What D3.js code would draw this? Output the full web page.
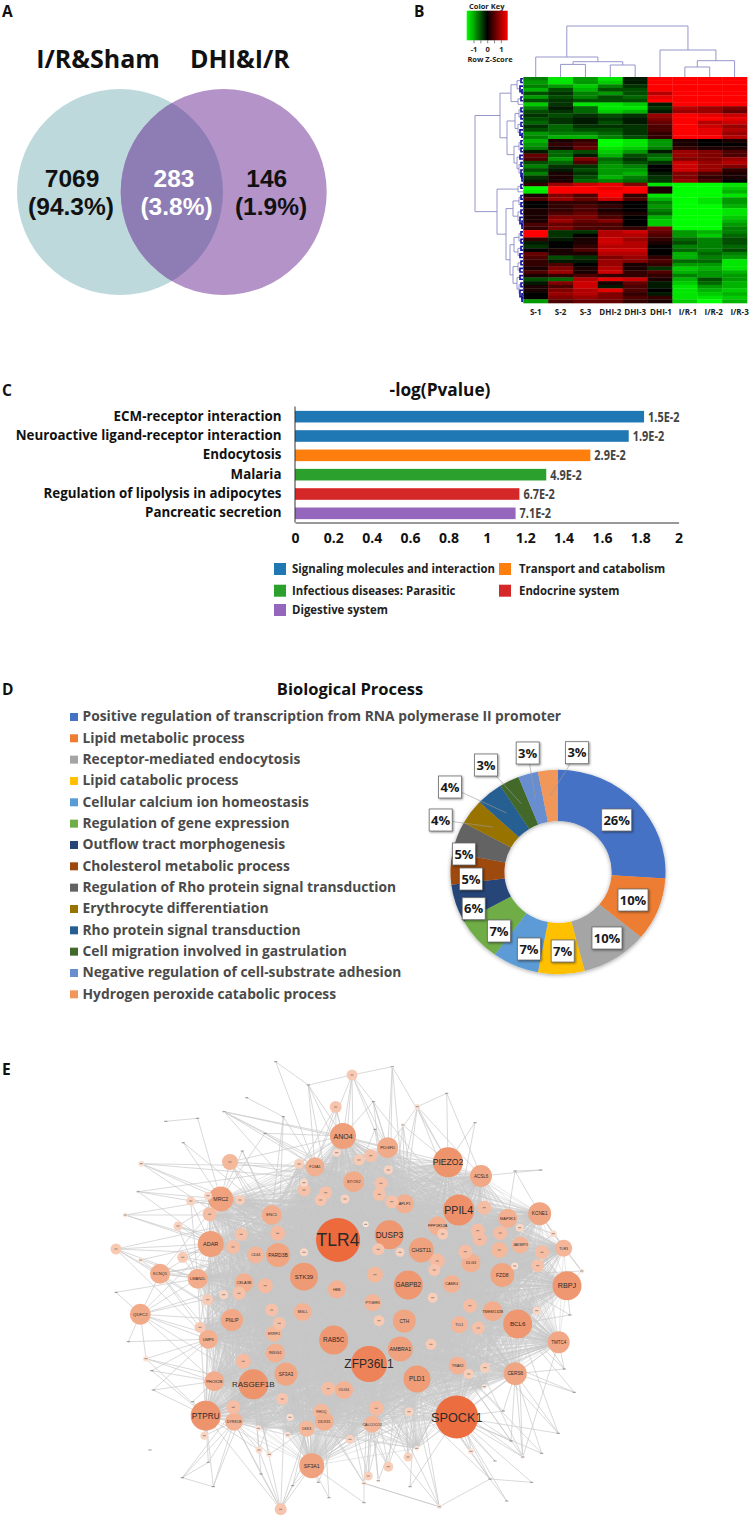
<!DOCTYPE html>
<html>
<head>
<meta charset="utf-8">
<script src="https://cdn.jsdelivr.net/npm/d3@7"></script>
<style>
  body { margin: 0; background: #fff; }
  svg { display: block; }
  text { font-family: "Open Sans", sans-serif; }
  .net text { font-family: "Liberation Sans", sans-serif; }
</style>
</head>
<body>
<svg id="fig" width="752" height="1517"></svg>
<script>
// panel A
const vennSets = ["I/R&Sham", "DHI&I/R"];
const vennCounts = ["7069", "283", "146"];
const vennShares = ["(94.3%)", "(3.8%)", "(1.9%)"];

// panel B, row z-scores in tenths
const heatColumns = ["S-1", "S-2", "S-3", "DHI-2", "DHI-3", "DHI-1", "I/R-1", "I/R-2", "I/R-3"];
const heatRows = [
  [-5,-9,-6,-9,-1,10,10,10,10],
  [-6,-9,-6,-8,-1,10,10,10,10],
  [-5,-6,-8,-5,-2,10,10,10,10],
  [-7,-3,-7,-3,-3,10,10,10,10],
  [-3,-2,-5,-6,-3,7,10,10,10],
  [-6,-3,-5,-3,-4,9,10,10,10],
  [-3,-2,-3,-3,-3,10,10,10,10],
  [-8,-2,-9,-9,-8,-1,10,10,10],
  [-5,-1,-4,-9,-9,-2,7,6,5],
  [-3,-2,-4,-8,-7,-1,6,6,4],
  [-2,-3,-2,-3,-2,6,10,9,8],
  [-3,-2,-1,-2,-1,5,10,10,9],
  [-4,-2,-1,-3,-1,4,10,7,8],
  [-2,-4,-2,-2,-2,3,10,8,6],
  [-3,-4,-3,-3,-2,3,10,9,7],
  [-6,-5,-5,-4,-2,2,10,9,6],
  [-5,-7,-7,-5,-3,2,10,10,7],
  [-7,1,2,-10,-9,-6,1,0,1],
  [-6,2,3,-10,-9,-6,1,0,0],
  [-5,1,4,-9,-8,-5,2,1,1],
  [-1,-4,-3,-8,-6,-1,6,5,3],
  [4,-4,-1,-7,-3,-4,6,5,3],
  [3,-6,5,-4,-2,-5,5,5,6],
  [-3,-4,3,-5,-3,-2,8,6,7],
  [-5,-2,-2,-6,-5,0,8,6,5],
  [-3,-1,-3,-6,-6,0,8,6,2],
  [-5,1,-2,-6,-7,-1,5,3,1],
  [-2,1,-3,-7,-5,-2,5,2,1],
  [-1,1,-4,-5,-4,-2,6,3,0],
  [2,6,8,9,5,-9,-10,-10,-9],
  [-10,10,10,9,10,1,-10,-10,-8],
  [-9,10,10,10,10,1,-10,-10,-7],
  [1,5,3,10,2,-9,-10,-10,-9],
  [3,6,4,8,3,-7,-10,-9,-6],
  [0,2,2,1,0,-5,-10,-9,-6],
  [0,2,3,2,0,-6,-10,-10,-7],
  [1,2,3,1,0,-5,-10,-10,-9],
  [1,3,4,2,1,-4,-10,-10,-9],
  [1,5,5,3,0,-7,-10,-10,-8],
  [1,6,4,5,0,-8,-10,-10,-7],
  [3,4,3,3,0,-8,-10,-10,-6],
  [2,5,3,3,2,5,-10,-10,-5],
  [10,-2,-2,7,8,4,-6,-7,-5],
  [10,-2,0,7,7,3,-6,-8,-4],
  [2,-1,1,8,6,2,-4,-5,-3],
  [-1,0,1,8,7,1,-3,-5,-3],
  [-2,0,2,7,7,0,-5,-5,-4],
  [0,1,3,8,8,0,-4,-5,-3],
  [4,1,1,7,7,0,-7,-4,-5],
  [3,-3,-2,5,6,2,-7,-5,-6],
  [2,-1,-1,6,5,3,-4,-4,-9],
  [2,3,0,6,1,2,-6,-6,-9],
  [1,5,1,7,1,-2,-8,-7,-9],
  [3,6,1,8,2,3,-7,-6,-7],
  [1,2,3,2,2,2,-5,-6,-6],
  [-3,-4,7,9,8,1,-7,-3,-6],
  [-1,5,8,1,4,-1,-8,-4,-7],
  [1,3,8,-1,3,-1,-9,-6,-7],
  [1,5,7,9,3,0,-9,-7,-8],
  [0,6,7,5,2,-1,-9,-8,-7],
  [0,5,6,5,3,2,-9,-9,-8],
  [-6,3,4,4,2,1,-8,-10,-7],
];
// dendrograms: [height, left, right], leaves are column or row numbers
const columnTree = [51, [20, 0, [15.3, [12.6, 1, 2], [12, 3, 4]]], [27, 5, [16.3, [10, 6, 7], 8]]];
const rowTree = [48,
  [23,
    [12, [6, [2, 0, 1], [3, 2, [1, 3, 4]]], [5, [2, 5, 6], 7]],
    [16,
      [8, [4, [2, 8, 9], [2, 10, 11]], [5, [2, 12, 13], [3, 14, [1, 15, 16]]]],
      [9, [4, [2, 17, 18], [2, 19, 20]], [6, [3, 21, 22], [4, [2, 23, 24], [2, 25, [1, 26, [1, 27, 28]]]]]]]],
  [26,
    [5, [2, 29, 30], 31],
    [17,
      [10, [4, [2, 32, 33], [2, 34, 35]], [5, [2, 36, 37], [3, 38, [1, 39, [1, 40, 41]]]]],
      [13,
        [9, [4, [2, 42, 43], [2, 44, 45]], [5, [2, 46, 47], [3, 48, 49]]],
        [10, [5, [2, 50, 51], [3, 52, 53]], [6, [3, 54, 55], [4, [2, 56, 57], [3, 58, [1, 59, [1, 60, 61]]]]]]]]],
];
const keyTicks = [-1, -0.5, 0, 0.5, 1];

// panel C
const pathwayNames = ["ECM-receptor interaction", "Neuroactive ligand-receptor interaction", "Endocytosis", "Malaria", "Regulation of lipolysis in adipocytes", "Pancreatic secretion"];
const pathwayLogP = [1.82, 1.74, 1.54, 1.31, 1.17, 1.15];
const pathwayPValues = ["1.5E-2", "1.9E-2", "2.9E-2", "4.9E-2", "6.7E-2", "7.1E-2"];
const pathwayClass = [0, 0, 1, 2, 3, 4];
const classNames = ["Signaling molecules and interaction", "Transport and catabolism", "Infectious diseases: Parasitic", "Endocrine system", "Digestive system"];
const classColors = ["#1f77b4", "#ff7f0e", "#2ca02c", "#d62728", "#9467bd"];
const pathwayTicks = [0, 0.2, 0.4, 0.6, 0.8, 1, 1.2, 1.4, 1.6, 1.8, 2];

// panel D
const processNames = [
  "Positive regulation of transcription from RNA polymerase II promoter",
  "Lipid metabolic process", "Receptor-mediated endocytosis", "Lipid catabolic process",
  "Cellular calcium ion homeostasis", "Regulation of gene expression", "Outflow tract morphogenesis",
  "Cholesterol metabolic process", "Regulation of Rho protein signal transduction", "Erythrocyte differentiation",
  "Rho protein signal transduction", "Cell migration involved in gastrulation",
  "Negative regulation of cell-substrate adhesion", "Hydrogen peroxide catabolic process",
];
const processShares = [26, 10, 10, 7, 7, 7, 6, 5, 5, 4, 4, 3, 3, 3];
const processColors = ["#4472c4", "#ed7d31", "#a5a5a5", "#ffc000", "#5b9bd5", "#70ad47", "#264478", "#9e480e", "#636363", "#997300", "#255e91", "#43682b", "#698ed0", "#f1975a"];

// panel E: [gene, layout x, layout y, degree]
const coreNodes = [
  ["TLR4",238,180,44],["ANO4",243,76,26],["MRC2",120.7,139,25],["ADAR",110.7,184,26],["STK39",204,216.7,28],
  ["PARD3B",178,195,24],["ENC1",171.7,155,20],["F13A1",215,106.7,19],["LMAN2L",97.7,218.7,20],["CELA3B",144,222.7,19],
  ["CD44",155.7,195,17],["HBB",236.7,229.3,18],["STOX2",253.7,121.7,21],["PIEZO2",348,102.3,30],["PPIL4",358.7,150,31],
  ["DUSP3",289.3,174.7,29],["CHST11",321.3,190,25],["GABPB2",308.3,225,29],["FZD8",402.3,215,24],["RBPJ",467,225.7,29],
  ["KCNE1",439.7,153.7,23],["ACSL6",381,116,22],["PDGFD",287.7,87.7,21],["APLP1",304.7,143.7,19],["PPP1R12A",337.7,165.7,19],
  ["MAP3K3",407.7,158.3,19],["JAKMIP3",420.3,185,17],["TLR3",463.7,188.3,17],["DLG3",371,203,19],["CAMK4",351.7,224,18],
  ["RAB5C",233.7,280,29],["RASGEF1B",153.3,324.3,30],["PTPRU",105.7,355.7,30],["SF3A1",211.7,405.7,25],["PNLIP",132,260,22],
  ["UMPS",108.3,279.3,19],["PHOX2B",114.3,321.3,20],["DYRK1B",134,361.7,18],["INSIG1",175.3,293,19],["ERRFI1",174,273.7,16],
  ["SF3A3",186,314,23],["MGLL",202.7,252,18],["RHOQ",221.3,351.7,16],["DDX31",224.3,361.3,19],["DKK3",206.7,368.7,16],
  ["OLIG1",244,330,18],["ZFP36L1",269,304,36],["SPOCK1",356.7,357,43],["PLD1",317,319,27],["AMBRA1",300.3,289,25],
  ["CTH",304.3,261,23],["PTGER3",272.7,242.7,17],["BCL6",417.7,264,29],["TMTC4",458.7,282.3,22],["CERS6",415.3,313.7,23],
  ["TMEM132B",392.7,251.3,20],["TRAK2",357.7,305.7,18],["TLL1",359.3,264.7,17],["CALCOCO2",272.3,364.3,17],
  ["",204,130,13],["",204,122.7,8],["",225.7,132.7,13],["",220.7,140,12],["",245,139,9],["",236.7,92.7,8],
  ["",199,104,10],["",177.7,173.3,15],["",141.3,174.3,13],["",133,187,14],["",109.7,154.3,14],["",140,140,10],
  ["",204,192.3,8],["",165.3,225.7,15],["",384.3,147.7,14],["",270.7,95.7,13],["",259,100,11],["",288.3,110,9],
  ["",281,123.3,13],["",279.3,134.3,13],["",291.7,141.7,13],["",265.7,164.3,6],["",278.3,189.3,12],["",300,192.3,9],
  ["",275,214.7,16],["",337.3,201,15],["",334.3,210,12],["",342.7,174,11],["",365.3,191.7,14],["",377.7,170.7,14],
  ["",379.7,179.3,14],["",400.3,173,14],["",399.3,190,16],["",419.7,167.7,8],["",442,192.3,14],["",437.7,205.7,13],
  ["",414.7,206,7],["",171.7,250,13],["",179.3,263.3,13],["",143.3,301.3,15],["",182.3,339,12],["",133.3,347.3,14],
  ["",100,267.3,11],["",107.7,239.7,11],["",123.7,234.7,9],["",139,233.3,13],["",228.3,328.7,14],["",190,357.3,7],
  ["",187.7,375,6],["",332.7,237.7,10],["",370,245.7,14],["",279,260.7,11],["",378.3,268,13],["",331,284.3,11],
  ["",385,307.7,10],["",368.7,314,10],["",276.3,348.3,15],["",309,351.7,9],["",250,379.3,9],["",436.7,250.7,8],
  ["",384.3,326.7,5],["",316.7,388.3,5],["",158.3,368.3,6],
];
// nodes round the edge of the network: [id, layout x, layout y, degree, linked genes]
const rimNodes = [
  ["_a",16,189,11,"ADAR LMAN2L KCNQ5 CD44 ENC1 UMPS PNLIP"],
  ["KCNQ5",60,213.7,20,"ADAR LMAN2L CELA3B CD44 UMPS PNLIP STK39 RASGEF1B MRC2 PARD3B"],
  ["QDFC2",40.3,254.3,21,"UMPS PNLIP LMAN2L ADAR RASGEF1B PHOX2B INSIG1 CELA3B KCNQ5 STK39"],
  ["_b",25.3,155,5,"ADAR MRC2 ENC1 CD44"],
  ["_c",38.3,131.7,4,"MRC2 ADAR ENC1 F13A1"],
  ["_d",41.3,103.7,6,"MRC2 ENC1 F13A1 PARD3B STOX2"],
  ["_e",40.7,200,5,"ADAR LMAN2L KCNQ5"],
  ["_f",90.7,141,9,"MRC2 ADAR ENC1 LMAN2L"],
  ["_g",78,166,9,"ADAR MRC2 LMAN2L CD44 PARD3B"],
  ["_h",82.7,197.3,11,"ADAR LMAN2L CELA3B STK39 ENC1"],
  ["_i",108,135.7,8,"MRC2 ADAR ENC1"],
  ["_j",130,102,16,"MRC2 ENC1 F13A1 ANO4 TLR4 STK39 PARD3B STOX2"],
  ["_k",124,51.7,3,"F13A1 ANO4 PDGFD TLR4 APLP1 STOX2"],
  ["_l",65.7,61.3,1.5,"_m"],
  ["_m",97.7,58.3,1.5,"MRC2"],
  ["_n",83.3,82.7,1.5,"MRC2 ENC1"],
  ["_o",142.3,91,1.5,"ENC1 MRC2 STK39"],
  ["_p",146.7,37.7,1.5,"_q"],
  ["_q",183.3,56.7,1.5,"ENC1 F13A1 PARD3B"],
  ["_r",165,73.3,1.5,"F13A1 ANO4 MRC2"],
  ["_s",175.7,1.7,1.5,"_t F13A1"],
  ["_t",208.3,25,1.5,"ANO4 F13A1 TLR4 STOX2 _u"],
  ["_u",252,15,11,"ANO4 F13A1 PDGFD APLP1 TLR4 STOX2 PPIL4"],
  ["_v",292.3,6.7,3,"DUSP3 APLP1 PIEZO2 PDGFD _u"],
  ["_w",235.7,47,12,"TLR4 ENC1 ANO4 F13A1 STOX2"],
  ["_x",273.3,41.7,1.5,"PDGFD DUSP3 APLP1 ANO4"],
  ["_y",275,69.3,1.5,"PDGFD STOX2 DUSP3"],
  ["_z",317.3,46.7,6,"PIEZO2 PPIL4 APLP1 PDGFD DUSP3 ACSL6"],
  ["_aa",303,65,4,"PIEZO2 APLP1 DUSP3 CHST11"],
  ["_ab",346.7,33.3,1.5,"_z PIEZO2 ACSL6"],
  ["_ac",375,62.7,1.5,"PIEZO2 PPIL4"],
  ["_ad",441,110,1.5,"_ae ACSL6"],
  ["_ae",415,111,1.5,"KCNE1 MAP3K3"],
  ["_af",453.3,173.7,7,"KCNE1 TLR3 FZD8 MAP3K3"],
  ["_ag",481.7,211,5,"TLR3 RBPJ KCNE1 FZD8"],
  ["_ah",470,255,1.5,"RBPJ BCL6 FZD8"],
  ["_ai",464.3,309,1.5,"BCL6 TMTC4 FZD8 CERS6"],
  ["_aj",474.3,332.3,1.5,"BCL6 CERS6 CTH"],
  ["_ak",458.3,373.3,1.5,"CERS6 SPOCK1 BCL6 TLL1"],
  ["_al",441.7,393.3,1.5,"SPOCK1 CERS6 TRAK2"],
  ["_am",422.7,397,4,"TMTC4 CERS6 BCL6 SPOCK1 PLD1 TRAK2 TLL1"],
  ["_an",411,381,1.5,"CERS6 SPOCK1 PLD1 TRAK2"],
  ["_ao",403.3,351,1.5,"CERS6 TRAK2 SPOCK1"],
  ["_ap",371,391.3,6,"SPOCK1 PLD1 TRAK2"],
  ["_aq",395,401,1.5,"SPOCK1 PLD1"],
  ["_ar",431.7,422.3,1.5,"SPOCK1 _as"],
  ["_as",390,419,1.5,"SPOCK1 AMBRA1 PLD1 ZFP36L1"],
  ["_at",406.7,441,1.5,"SPOCK1 _as"],
  ["_au",339.3,446.7,5,"_as PLD1 AMBRA1 ZFP36L1 CALCOCO2 _av"],
  ["_av",264,423.3,5,"ZFP36L1 CALCOCO2 DDX31 OLIG1 RHOQ _au"],
  ["_aw",310,426.7,1.5,"SPOCK1 PLD1"],
  ["_ax",264,442.7,1.5,"_av SF3A1"],
  ["_ay",288.3,406.7,10,"ZFP36L1 PLD1 OLIG1 AMBRA1 RAB5C"],
  ["_az",308,397,9,"ZFP36L1 AMBRA1 PLD1 CTH"],
  ["_ba",268.3,416,9,"ZFP36L1 OLIG1 AMBRA1 CALCOCO2"],
  ["_bb",278.3,420.7,4,"ZFP36L1 PLD1 CALCOCO2"],
  ["_bc",180.7,449.3,12,"SF3A1 DKK3 PTPRU DYRK1B RASGEF1B SF3A3 _bd DDX31"],
  ["_bd",159,390,7,"RASGEF1B DYRK1B PTPRU SF3A3"],
  ["_be",169.3,394.3,6,"RASGEF1B DYRK1B DKK3"],
  ["_bf",229,437.7,1.5,"SF3A1 DDX31"],
  ["_bg",192.7,425.7,1.5,"SF3A1 DKK3 _bc"],
  ["_bh",218.3,422.3,1.5,"SF3A1 ZFP36L1"],
  ["_bi",161,414,1.5,"RASGEF1B DYRK1B _bc"],
  ["_bj",113.3,426.7,1.5,"_bk PTPRU DYRK1B RASGEF1B"],
  ["_bk",82.3,417.7,1.5,"_bl DYRK1B RASGEF1B"],
  ["_bl",108.3,402.3,1.5,"PTPRU DYRK1B"],
  ["_bm",104.3,375.7,8,"PTPRU DYRK1B PHOX2B"],
  ["_bn",50,390,1.5,""],
  ["_bo",46,298.7,6,"UMPS PHOX2B PTPRU QDFC2 RASGEF1B"],
  ["_bp",51.7,310.7,1.5,"PTPRU PHOX2B UMPS"],
  ["_bq",53.3,330,1.5,"PHOX2B PTPRU UMPS"],
  ["_br",92.7,341.7,1.5,"PTPRU PHOX2B"],
  ["_bs",28.3,281.7,1.5,"QDFC2 UMPS"],
  ["_bt",16,232.3,1.5,"QDFC2 LMAN2L"],
];
const labelSize = { TLR4: 17.5, SPOCK1: 12.7, ZFP36L1: 12, PPIL4: 10.6, PIEZO2: 8.6, PTPRU: 8.2, RASGEF1B: 8, DUSP3: 8.2, RBPJ: 7.2, ANO4: 7, GABPB2: 6.4, RAB5C: 6.4, PLD1: 6.4 };

const svg = d3.select("#fig");

function addText(parent, str, x, y, opts = {}) {
  const sx = opts.sx || 1;
  return parent.append("text")
    .attr("transform", `translate(${x},${y}) scale(${sx},1)`)
    .attr("text-anchor", opts.anchor || "start")
    .attr("font-size", opts.size || 12)
    .attr("font-weight", opts.weight || 700)
    .attr("fill", opts.fill || "#111")
    .text(str);
}

[["A", 2, 17], ["B", 414, 17], ["C", 2, 396], ["D", 2, 695], ["E", 2, 1075]].forEach(([letter, x, y]) => {
  addText(svg, letter, x, y, { size: 15.5 });
});

function drawVenn() {
  const g = svg.append("g");
  const r = 103;
  const leftX = 120;
  const rightX = 223.7;
  const cy = 192;
  svg.append("defs").append("clipPath").attr("id", "venn-clip")
    .append("circle").attr("cx", rightX).attr("cy", cy).attr("r", r);
  g.append("circle").attr("cx", leftX).attr("cy", cy).attr("r", r).attr("fill", "#bdd9db");
  g.append("circle").attr("cx", rightX).attr("cy", cy).attr("r", r).attr("fill", "#b493c9");
  g.append("circle").attr("cx", leftX).attr("cy", cy).attr("r", r).attr("fill", "#8e7db4").attr("clip-path", "url(#venn-clip)");
  addText(g, vennSets[0], 98, 68, { size: 25, anchor: "middle" });
  addText(g, vennSets[1], 240, 68, { size: 25, anchor: "middle" });
  const centers = [[72, 71], [174, 176.5], [266.7, 271]];
  vennCounts.forEach((count, i) => {
    const fill = i === 1 ? "#fff" : "#111";
    addText(g, count, centers[i][0], 186.5, { size: 24.5, anchor: "middle", fill }).style("font-family", '"Liberation Sans"');
    addText(g, vennShares[i], centers[i][1], 215, { size: 24.5, anchor: "middle", fill }).style("font-family", '"Liberation Sans"');
  });
}

// lay a nested [height, a, b] tree out; returns the links to stroke
function treeLinks(tree) {
  const root = d3.hierarchy(tree, (d) => (Array.isArray(d) ? d.slice(1) : null));
  root.eachAfter((node) => {
    if (node.children) {
      node.pos = d3.mean(node.children, (c) => c.pos);
      node.h = node.data[0];
    } else {
      node.pos = node.data;
      node.h = 0;
    }
  });
  return root.descendants().filter((n) => n.children);
}

function drawHeatmap() {
  const g = svg.append("g");
  const x = d3.scaleBand().domain(d3.range(heatColumns.length)).range([523.3, 747]);
  const y = d3.scaleBand().domain(d3.range(heatRows.length)).range([77, 303]);
  const color = d3.scaleLinear().domain([-10, 0, 10]).range(["#00ff00", "#000000", "#ff0000"]).clamp(true);

  g.selectAll("g.row").data(heatRows).join("g").attr("class", "row")
    .attr("transform", (d, i) => `translate(0,${y(i)})`)
    .selectAll("rect").data((d) => d).join("rect")
    .attr("x", (d, i) => x(i))
    .attr("width", x.bandwidth() + 0.3)
    .attr("height", y.bandwidth() + 0.3)
    .attr("fill", (d) => color(d));

  const colLabelShift = [0, 0, 0, 0, 0, 1, 3, 4, 5];
  heatColumns.forEach((name, i) => {
    addText(g, name, x(i) + x.bandwidth() / 2 + colLabelShift[i], 315, { size: 8, anchor: "middle", fill: "#222" });
  });

  const colX = d3.scaleLinear().domain([0, heatColumns.length - 1]).range([523.3 + x.bandwidth() / 2, 747 - x.bandwidth() / 2]);
  g.append("g").selectAll("path").data(treeLinks(columnTree)).join("path")
    .attr("fill", "none").attr("stroke", "#8a8ac4").attr("stroke-width", 0.9)
    .attr("d", (n) => {
      const [a, b] = n.children;
      const top = 77 - n.h;
      return `M${colX(a.pos)},${77 - a.h}V${top}H${colX(b.pos)}V${77 - b.h}`;
    });

  const rowY = d3.scaleLinear().domain([0, heatRows.length - 1]).range([77 + y.bandwidth() / 2, 303 - y.bandwidth() / 2]);
  g.append("g").selectAll("path").data(treeLinks(rowTree)).join("path")
    .attr("fill", "none")
    .attr("stroke", (n) => (n.h <= 3 ? "#12129c" : "#8a8ac4"))
    .attr("stroke-width", (n) => (n.h <= 3 ? 1.6 : 0.9))
    .attr("d", (n) => {
      const [a, b] = n.children;
      const left = 523 - n.h;
      return `M${523 - a.h},${rowY(a.pos)}H${left}V${rowY(b.pos)}H${523 - b.h}`;
    });

  // colour key
  const keyX = d3.scaleLinear().domain([-1.5, 1.5]).range([466.7, 507.7]);
  const grad = svg.append("defs").append("linearGradient").attr("id", "key-grad");
  [[0, "#00ff00"], [0.5, "#000000"], [1, "#ff0000"]].forEach(([o, c]) => {
    grad.append("stop").attr("offset", o).attr("stop-color", c);
  });
  g.append("rect").attr("x", 466.7).attr("y", 10.7).attr("width", 41).attr("height", 29.6).attr("fill", "url(#key-grad)");
  const keyAxis = g.append("g").attr("transform", "translate(0,40.3)")
    .call(d3.axisBottom(keyX).tickValues(keyTicks).tickSize(3).tickFormat((d) => (Number.isInteger(d) ? d : "")));
  keyAxis.select(".domain").remove();
  keyAxis.selectAll("line").attr("stroke", "#333").attr("stroke-width", 0.6);
  keyAxis.selectAll("text").attr("dy", 0).attr("y", 12).attr("font-size", 7.5).attr("font-weight", 700).attr("font-family", '"Open Sans"').attr("fill", "#222");
  addText(g, "Color Key", 486.7, 8.5, { size: 7.5, anchor: "middle", fill: "#222" });
  addText(g, "Row Z-Score", 490, 62, { size: 7.5, anchor: "middle", fill: "#222" });
}

function drawPathways() {
  const g = svg.append("g");
  const x = d3.scaleLinear().domain([0, 2]).range([295, 678.6]);
  const y = d3.scaleBand().domain(pathwayNames).range([407, 523]).paddingInner(0.4).paddingOuter(0.2);
  addText(g, "-log(Pvalue)", 440, 396, { size: 18, anchor: "middle", sx: 0.96 });

  g.selectAll("rect.bar").data(pathwayNames).join("rect").attr("class", "bar")
    .attr("x", x(0))
    .attr("y", (d) => y(d))
    .attr("width", (d, i) => x(pathwayLogP[i]) - x(0))
    .attr("height", y.bandwidth())
    .attr("fill", (d, i) => classColors[pathwayClass[i]]);

  pathwayNames.forEach((name, i) => {
    addText(g, name, 281.5, y(name) + y.bandwidth() / 2 + 4, { size: 15, anchor: "end", sx: 0.89 });
    addText(g, pathwayPValues[i], x(pathwayLogP[i]) + 4, y(name) + y.bandwidth() / 2 + 5, { size: 14, fill: "#444", sx: 0.78 });
  });

  const axis = g.append("g").attr("transform", "translate(0,522.5)")
    .call(d3.axisBottom(x).tickValues(pathwayTicks).tickSize(0).tickFormat((d) => d));
  axis.select(".domain").attr("stroke", "#333");
  axis.selectAll("text").attr("y", 16).attr("dy", "0.32em").attr("font-size", 14).attr("font-weight", 700).attr("font-family", '"Open Sans"').attr("fill", "#111");
  g.append("line").attr("x1", x(0)).attr("x2", x(0)).attr("y1", 406.5).attr("y2", 522.5).attr("stroke", "#333");

  const legendPos = [[274, 569], [499, 569], [274, 590.7], [499, 590.7], [274, 610]];
  classNames.forEach((name, i) => {
    const [lx, ly] = legendPos[i];
    g.append("rect").attr("x", lx).attr("y", ly - 6).attr("width", 12).attr("height", 12).attr("fill", classColors[i]);
    addText(g, name, lx + (i % 2 ? 20 : 18), ly + 4, { size: 12, fill: "#222", sx: 0.95 });
  });
}

function drawProcesses() {
  const g = svg.append("g");
  addText(g, "Biological Process", 350, 695, { size: 16.5, anchor: "middle" });

  const legendY = d3.scaleBand().domain(processNames).range([706.3, 1005]);
  processNames.forEach((name, i) => {
    const cy = legendY(name) + legendY.bandwidth() / 2;
    g.append("rect").attr("x", 70).attr("y", cy - 4).attr("width", 8).attr("height", 8).attr("fill", processColors[i]);
    addText(g, name, 82.5, cy + 4.5, { size: 13.8, fill: "#4a4a4a" });
  });

  const defs = svg.append("defs");
  const shadow = defs.append("filter").attr("id", "soft").attr("x", "-10%").attr("y", "-10%").attr("width", "120%").attr("height", "120%");
  shadow.append("feDropShadow").attr("dx", 0).attr("dy", 1).attr("stdDeviation", 2).attr("flood-opacity", 0.35);

  const arc = d3.arc().innerRadius(53.7).outerRadius(107.5);
  const slices = d3.pie().sort(null).value((d) => d)(processShares);
  const squash = 0.95;
  const ring = g.append("g").attr("transform", `translate(558,872) scale(1,${squash})`).attr("filter", "url(#soft)");
  ring.selectAll("path").data(slices).join("path")
    .attr("d", arc)
    .attr("fill", (d, i) => processColors[i]);

  const labelX = [616.7, 633, 607, 562.7, 529, 499, 473.7, 471, 464, 440.7, 450, 486, 527.7, 577];
  const labelY = [820, 900, 938, 951, 949, 931, 908.7, 879, 854, 820, 787, 765, 753, 752.7];
  slices.forEach((d, i) => {
    if (i < 9) return;
    const [cx, cy] = arc.centroid(d);
    g.append("line")
      .attr("x1", labelX[i]).attr("y1", labelY[i])
      .attr("x2", 558 + cx).attr("y2", 872 + cy * squash)
      .attr("stroke", "#9a9a9a").attr("stroke-width", 0.6);
  });
  slices.forEach((d, i) => {
    const str = `${processShares[i]}%`;
    const w = str.length > 2 ? 30 : 23;
    g.append("rect")
      .attr("x", labelX[i] - w / 2).attr("y", labelY[i] - 11)
      .attr("width", w).attr("height", 22)
      .attr("fill", "#fff").attr("stroke", "#6e6e6e").attr("stroke-width", 0.8)
      .style("filter", "drop-shadow(1px 1px 1px rgba(0,0,0,.45))");
    addText(g, str, labelX[i], labelY[i] + 4.5, { size: 13, anchor: "middle", fill: "#1a1a1a" });
  });
}

function drawNetwork() {
  const g = svg.append("g").attr("class", "net");
  const x = d3.scaleLinear().domain([0, 500]).range([100, 600]);
  const y = d3.scaleLinear().domain([0, 450]).range([1060, 1510]);
  const radius = d3.scaleLinear().domain([0, 44]).range([0, 22]);
  const fill = d3.scaleLinear()
    .domain([1.5, 8, 14, 20, 28, 36, 44])
    .range(["#ffffff", "#fad6c4", "#f5bda3", "#f3ad8c", "#ee9a74", "#ee8258", "#ec6a3c"]);
  const textSize = d3.scaleLinear().domain([16, 20, 26, 30]).range([3.4, 4, 5.5, 6.5]).clamp(true);

  const toNode = (row) => ({ id: row[0], u: row[1], v: row[2], degree: row[3], targets: row[4] });
  const core = coreNodes.map(toNode);
  const rim = rimNodes.map(toNode);
  const byId = new Map([...core, ...rim].filter((n) => n.id).map((n) => [n.id, n]));

  // the well linked genes reach every other gene in the core
  const hubMin = 16;
  const coreLinks = [];
  core.forEach((a, i) => {
    core.forEach((b, j) => {
      if (j > i && (a.degree >= hubMin || b.degree >= hubMin)) coreLinks.push([a, b]);
    });
  });
  const rimLinks = [];
  rim.forEach((a) => {
    (a.targets || "").split(" ").filter(Boolean).forEach((id) => {
      if (byId.has(id)) rimLinks.push([a, byId.get(id)]);
    });
  });

  const drawLinks = (links, width) => {
    g.append("g").selectAll("line").data(links).join("line")
      .attr("x1", (d) => x(d[0].u)).attr("y1", (d) => y(d[0].v))
      .attr("x2", (d) => x(d[1].u)).attr("y2", (d) => y(d[1].v))
      .attr("stroke", "#c8c8c8").attr("stroke-width", width);
  };
  drawLinks(coreLinks, 0.42);
  drawLinks(rimLinks, 0.7);

  const nodes = [...core, ...rim];
  g.append("g").selectAll("circle").data(nodes.filter((n) => n.degree > 2)).join("circle")
    .attr("cx", (d) => x(d.u)).attr("cy", (d) => y(d.v))
    .attr("r", (d) => radius(d.degree))
    .attr("fill", (d) => fill(d.degree));

  // names too small to read stay as short dark dashes
  const unnamed = nodes.filter((n) => !n.id || n.id.startsWith("_"));
  g.append("g").selectAll("line").data(unnamed).join("line")
    .attr("x1", (d) => x(d.u) - 1.6).attr("x2", (d) => x(d.u) + 1.6)
    .attr("y1", (d) => y(d.v)).attr("y2", (d) => y(d.v))
    .attr("stroke", "#555").attr("stroke-width", 0.6);

  nodes.filter((n) => n.id && !n.id.startsWith("_")).forEach((n) => {
    addText(g, n.id, x(n.u), y(n.v) + (labelSize[n.id] || textSize(n.degree)) * 0.36, {
      size: labelSize[n.id] || textSize(n.degree), anchor: "middle", weight: 400, fill: "#2b2b2b",
    });
  });
}

drawVenn();
drawHeatmap();
drawPathways();
drawProcesses();
drawNetwork();
</script>
</body>
</html>
